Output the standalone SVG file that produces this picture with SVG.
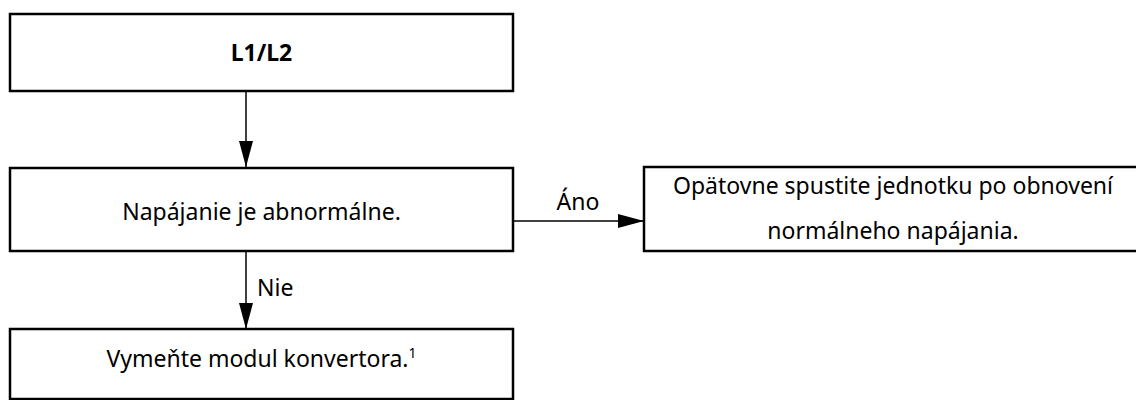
<svg xmlns="http://www.w3.org/2000/svg" width="1136" height="400" viewBox="0 0 1136 400">
<style>
.box{fill:#fff;stroke:#000;stroke-width:2.5}
.t{font-family:"Noto Sans","Open Sans",sans-serif;font-size:23px;fill:#000;text-anchor:middle}
.b{font-weight:bold}
.c{stroke:#000;stroke-width:1.5;fill:none}
</style>
<defs>
<marker id="ah" markerUnits="userSpaceOnUse" markerWidth="26" markerHeight="14" refX="26" refY="7" orient="auto">
<path d="M0,0 L26,7 L0,14 Z" fill="#000"/>
</marker>
</defs>
<rect width="1136" height="400" fill="#fff"/>
<g id="n1"><rect class="box" x="10" y="14" width="503" height="77"/><text class="t b" x="261.5" y="61">L1/L2</text></g>
<g id="n2"><rect class="box" x="10" y="168" width="503" height="83"/><text class="t" x="261.5" y="220">Napájanie je abnormálne.</text></g>
<g id="n3"><rect class="box" x="644" y="167" width="500" height="84"/><text class="t" x="893" y="194">Opätovne spustite jednotku po obnovení</text><text class="t" x="893" y="239">normálneho napájania.</text></g>
<g id="n4"><rect class="box" x="10" y="329" width="503" height="70"/><text class="t" x="261.5" y="367">Vymeňte modul konvertora.<tspan font-size="14" dy="-9">1</tspan></text></g>
<g id="connectors">
<line class="c" x1="246" y1="91" x2="246" y2="167" marker-end="url(#ah)"/>
<line class="c" x1="513" y1="221" x2="644" y2="221" marker-end="url(#ah)"/>
<text class="t" x="578" y="210">Áno</text>
<line class="c" x1="246" y1="252" x2="246" y2="329" marker-end="url(#ah)"/>
<text class="t" x="257" y="296" style="text-anchor:start">Nie</text>
</g>
</svg>
